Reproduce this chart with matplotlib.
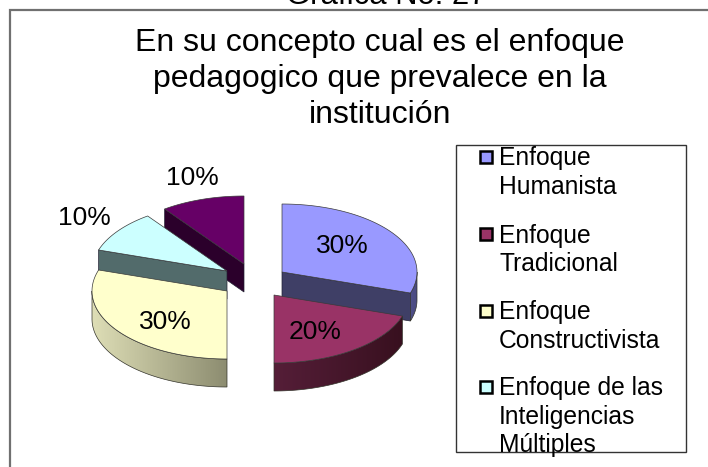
import numpy as np
import matplotlib
matplotlib.use("Agg")
import matplotlib.pyplot as plt
from matplotlib.colors import LinearSegmentedColormap
from matplotlib.patches import Polygon, Rectangle

plt.rcParams['font.family'] = ['Liberation Sans', 'DejaVu Sans']

# Data
categories = ["Enfoque\nHumanista", "Enfoque\nTradicional", "Enfoque\nConstructivista",
              "Enfoque de las\nInteligencias\nMúltiples"]
values = [30, 20, 30, 10, 10]
title = "En su concepto cual es el enfoque\npedagogico que prevalece en la\ninstitución"
outer_title = "Gráfica No. 27"

# Styles
top_colors = ["#9999FF", "#993366", "#FFFFCC", "#CCFFFF", "#660066"]
radial_wall = ["#3F3F66", "#3D1429", "#66664F", "#526B6B", "#2B002B"]
outer_left = ["#50508A", "#551E38", "#DEDEB6", "#526B6B", "#2B002B"]
outer_right = ["#4A4A80", "#38101F", "#8C8C70", "#526B6B", "#2B002B"]

# Geometry (pixels)
W, H = 708, 467
CX, CY, RX, RY, DEPTH = 256.0, 282.0, 135.0, 68.0, 28.0
explode_dx = [26, 18, -29, -29, -12]
explode_dy = [-10, 13, 9, -11, -18]
label_pos = [(342, 246), (315, 332), (165, 322), (84, 218), (192, 178)]
draw_order = [4, 3, 0, 2, 1]

fig = plt.figure(figsize=(W / 100, H / 100), dpi=100)
ax = fig.add_axes([0, 0, 1, 1])
ax.axis("off")

ax.plot([9.5, 9.5, W], [H, 10, 10], color="#707070", lw=1.6, solid_joinstyle="miter", zorder=1)
ax.text(386, 4, outer_title, ha="center", va="baseline", fontsize=22.3, color="black", clip_on=False)
ax.text(380, 79, title, ha="center", va="center", fontsize=23, linespacing=1.27, color="black")

total = sum(values)
cum = np.cumsum([0] + values) / total * 2 * np.pi
z = 2
for i in draw_order:
    a0, a1 = cum[i], cum[i + 1]
    ox, oy = CX + explode_dx[i], CY + explode_dy[i]
    t = np.linspace(a0, a1, 80)
    xs = ox + RX * np.sin(t)
    ys = oy - RY * np.cos(t)
    am = 0.5 * (a0 + a1)
    mx, my = ox + 0.6 * RX * np.sin(am), oy - 0.6 * RY * np.cos(am)
    # radial walls that face the viewer (wedge interior lies above the edge)
    for a in (a0, a1):
        ex, ey = ox + RX * np.sin(a), oy - RY * np.cos(a)
        if abs(ex - ox) < 1:
            continue
        if my < oy + (ey - oy) * (mx - ox) / (ex - ox):
            ax.add_patch(Polygon([(ox, oy), (ex, ey), (ex, ey + DEPTH), (ox, oy + DEPTH)],
                                 closed=True, fc=radial_wall[i], ec="#222233", lw=0.5, zorder=z))
    # outer wall with horizontal gradient
    lo, hi = max(a0, np.pi / 2), min(a1, 3 * np.pi / 2)
    if hi > lo:
        tw = np.linspace(lo, hi, 100)
        wx = ox + RX * np.sin(tw)
        wy = oy - RY * np.cos(tw)
        cmap = LinearSegmentedColormap.from_list("w", [outer_left[i], outer_right[i]])
        grad = np.linspace(0, 1, 256)[None, :]
        im = ax.imshow(grad, cmap=cmap, aspect="auto", zorder=z, interpolation="bilinear",
                       extent=(wx.min(), wx.max(), (wy + DEPTH).max(), wy.min()))
        poly = Polygon(np.vstack([np.column_stack([wx, wy]),
                                  np.column_stack([wx, wy + DEPTH])[::-1]]),
                       closed=True, fc="none", ec="#33332A", lw=0.5, zorder=z)
        ax.add_patch(poly)
        im.set_clip_path(poly)
    z += 1
    # top face
    ax.add_patch(Polygon(np.vstack([[ox, oy], np.column_stack([xs, ys])]), closed=True,
                         fc=top_colors[i], ec="#3A3A3A", lw=0.5, zorder=z))
    z += 1

for v, (lx, ly) in zip(values, label_pos):
    ax.text(lx, ly, f"{v}%", ha="center", va="center", fontsize=19, color="black", zorder=50)

# Legend
ax.add_patch(Rectangle((455.5, 144.5), 230, 307, fc="white", ec="#333333", lw=1.0, zorder=40))
legend_y = [149.5, 226.5, 303, 379]
for lab, col, ly in zip(categories, top_colors, legend_y):
    ax.add_patch(Rectangle((480, ly + 1.5), 12, 12, fc=col, ec="black", lw=1.8, zorder=41))
    ax.text(499, ly - 3, lab, ha="left", va="top", fontsize=17.7, linespacing=1.24, color="black", zorder=42)

ax.set_xlim(0, W)
ax.set_ylim(H, 0)
fig.savefig("out.png", dpi=100)
